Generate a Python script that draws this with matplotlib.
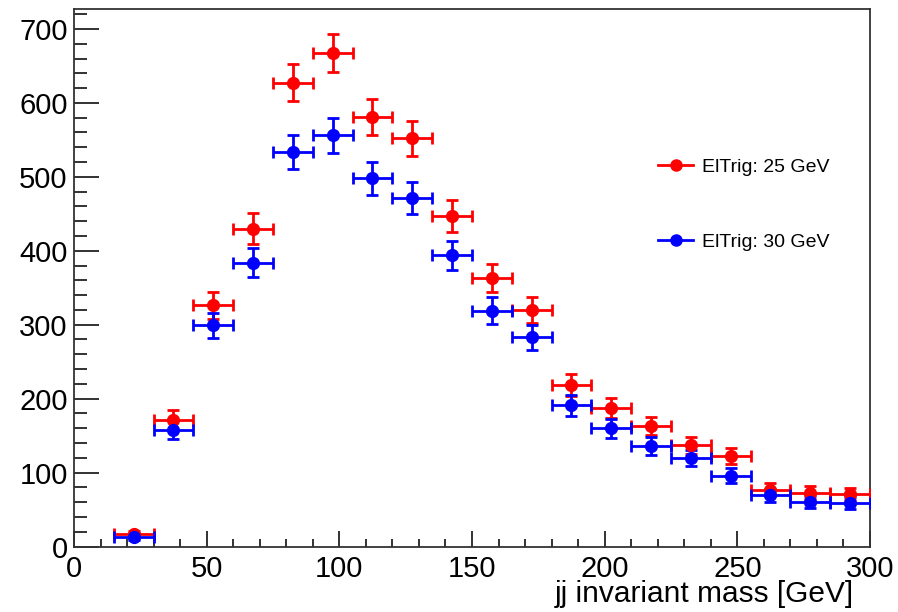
"""
Masa invariante jj para dos umbrales del trigger de electrón (estilo ROOT).
"""

import matplotlib
matplotlib.use("Agg")
import matplotlib.pyplot as plt
from matplotlib.lines import Line2D
from matplotlib.ticker import MultipleLocator

# Centros de bin (GeV), ancho de bin 15 GeV
bin_centers = [22.5, 37.5, 52.5, 67.5, 82.5, 97.5, 112.5, 127.5, 142.5, 157.5,
               172.5, 187.5, 202.5, 217.5, 232.5, 247.5, 262.5, 277.5, 292.5]
bin_halfwidth = [7.5] * len(bin_centers)

# ElTrig: 25 GeV
counts_25 = [17, 171, 326, 430, 627, 667, 581, 552, 447, 363,
             320, 218, 187, 163, 137, 122, 77, 73, 71]
err_25 = [4.1, 13.1, 18.1, 20.7, 25.0, 25.8, 24.1, 23.5, 21.1, 19.1,
          17.9, 14.8, 13.7, 12.8, 11.7, 11.0, 8.8, 8.5, 8.4]

# ElTrig: 30 GeV
counts_30 = [13, 158, 299, 384, 534, 556, 498, 471, 394, 319,
             283, 191, 160, 136, 120, 96, 69, 60, 59]
err_30 = [3.6, 12.6, 17.3, 19.6, 23.1, 23.6, 22.3, 21.7, 19.8, 17.9,
          16.8, 13.8, 12.6, 11.7, 11.0, 9.8, 8.3, 7.7, 7.7]

labels = ["ElTrig: 25 GeV", "ElTrig: 30 GeV"]
colors = ["#ff0000", "#0000ff"]

FONT = ["Liberation Sans", "DejaVu Sans"]


def make_plot(out="out.png"):
    plt.rcParams["font.family"] = FONT
    fig = plt.figure(figsize=(8.98, 6.12), dpi=100)
    ax = fig.add_axes([0.0824, 0.107, 0.8864, 0.8783])

    for y, yerr, col in ((counts_25, err_25, colors[0]), (counts_30, err_30, colors[1])):
        ax.errorbar(bin_centers, y, xerr=bin_halfwidth, yerr=yerr, fmt="o",
                    color=col, ms=8.5, elinewidth=2, capsize=4.5, capthick=2,
                    zorder=3)

    ax.set_xlim(0, 300)
    ax.set_ylim(0, 727)

    ax.xaxis.set_major_locator(MultipleLocator(50))
    ax.xaxis.set_minor_locator(MultipleLocator(10))
    ax.yaxis.set_major_locator(MultipleLocator(100))
    ax.yaxis.set_minor_locator(MultipleLocator(20))
    ax.tick_params(which="both", direction="in", top=False, right=False,
                   width=1.3, colors="#222222", labelcolor="black")
    ax.tick_params(axis="y", which="major", length=18, pad=4.5, labelsize=21)
    ax.tick_params(axis="y", which="minor", length=9)
    ax.tick_params(axis="x", which="major", length=11.5, pad=6, labelsize=21)
    ax.tick_params(axis="x", which="minor", length=5.5)
    for sp in ax.spines.values():
        sp.set_linewidth(1.3)
        sp.set_color("#333333")

    ax.set_xlabel("jj invariant mass [GeV]", fontsize=21.5, loc="right",
                  labelpad=-2)
    ax.xaxis.label.set_position((0.98, 0))

    handles = [Line2D([], [], color=c, marker="o", ms=8, lw=2) for c in colors]
    ax.legend(handles, labels, loc="upper left", bbox_to_anchor=(0.734, 0.722),
              frameon=False, fontsize=14, handlelength=1.8, handletextpad=0.45,
              labelspacing=2.95, borderaxespad=0, borderpad=0)

    fig.savefig(out, dpi=100)
    plt.close(fig)


if __name__ == "__main__":
    make_plot()
